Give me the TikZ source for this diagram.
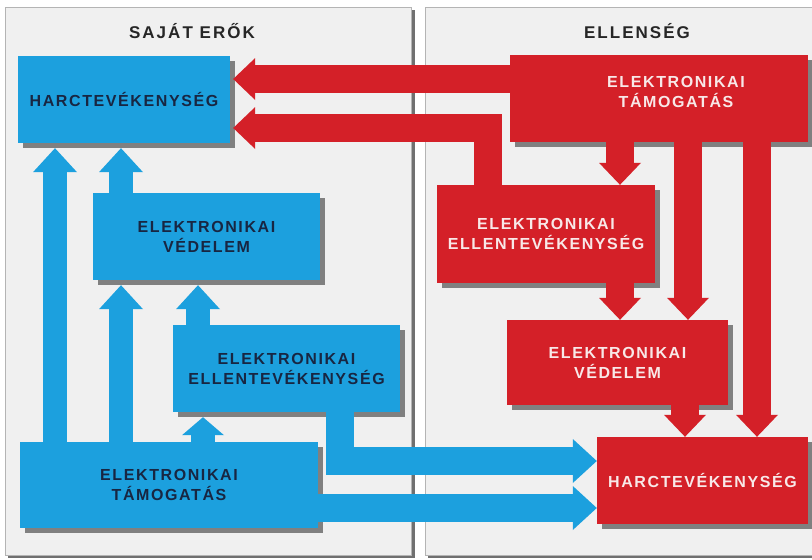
\documentclass[tikz,border=0pt]{standalone}
\usepackage{fontspec}
\setmainfont{Liberation Sans}
\newfontfamily\boxfont{Liberation Sans}[LetterSpace=10]
\newfontfamily\titlefont{Liberation Sans}[LetterSpace=12]
\usetikzlibrary{arrows.meta,shadows}

\definecolor{boxblue}{RGB}{28,160,222}
\definecolor{boxred}{RGB}{212,32,40}
\definecolor{bluetext}{RGB}{24,38,66}
\definecolor{redtext}{RGB}{248,232,232}
\definecolor{boxshadow}{RGB}{128,128,128}
\definecolor{panelbg}{RGB}{240,240,240}
\definecolor{panelline}{RGB}{180,180,180}
\definecolor{panelshadow}{RGB}{112,112,112}

\tikzset{
  panelrect/.style={fill=panelbg, draw=panelline, line width=1pt},
  panelshade/.style={fill=panelshadow},
  paneltitle/.style={font=\titlefont\bfseries\fontsize{17}{20}\selectfont, text=black!85},
  box/.style={rectangle, inner sep=0pt, align=center,
    font=\boxfont\bfseries\fontsize{16}{20}\selectfont,
    general shadow={fill=boxshadow, shadow xshift=5pt, shadow yshift=-5pt}},
  bluebox/.style={box, fill=boxblue, text=bluetext},
  redbox/.style={box, fill=boxred, text=redtext},
  blueflow/.style={draw=boxblue, line width=24pt, line cap=butt,
    -{Triangle[length=24pt, width=44pt, line width=0pt]}},
  blueflowwide/.style={draw=boxblue, line width=28pt, line cap=butt, line join=miter,
    -{Triangle[length=24pt, width=44pt, line width=0pt]}},
  redflow/.style={draw=boxred, line width=28pt, line cap=butt, line join=miter,
    -{Triangle[length=22pt, width=42pt, line width=0pt]}},
}

\begin{document}
\begin{tikzpicture}[x=1pt, y=-1pt]
\useasboundingbox (0,0) rectangle (812,560);
\fill[white] (0,0) rectangle (812,560);

% the two panels
\fill[panelshade] (8,10) rectangle (415,558);
\path[panelrect] (5,7) rectangle (411,555);
\fill[panelshade] (428,10) rectangle (818,558);
\path[panelrect] (425,7) rectangle (815,555);

\node[paneltitle] (ownttl) at (192,31) {SAJÁT ERŐK};
\node[paneltitle] (enemyttl) at (637,31) {ELLENSÉG};

% own forces
\node[bluebox, minimum width=212pt, minimum height=87pt] (bharc) at (124,99.5) {HARCTEVÉKENYSÉG};
\node[bluebox, minimum width=227pt, minimum height=87pt] (bved) at (206.5,236.5) {ELEKTRONIKAI\\VÉDELEM};
\node[bluebox, minimum width=227pt, minimum height=87pt] (bellen) at (286.5,368.5) {ELEKTRONIKAI\\ELLENTEVÉKENYSÉG};
\node[bluebox, minimum width=298pt, minimum height=86pt] (btam) at (169,485) {ELEKTRONIKAI\\TÁMOGATÁS};

% enemy
\node[redbox, minimum width=298pt, minimum height=87pt] (rtam) at (659,98.5) {};
\node[font=\boxfont\bfseries\fontsize{16}{20}\selectfont, text=redtext, align=center] (rtamtxt) at (676,92) {ELEKTRONIKAI\\TÁMOGATÁS};
\node[redbox, minimum width=218pt, minimum height=98pt] (rellen) at (546,234) {ELEKTRONIKAI\\ELLENTEVÉKENYSÉG};
\node[redbox, minimum width=221pt, minimum height=85pt] (rved) at (617.5,362.5) {ELEKTRONIKAI\\VÉDELEM};
\node[redbox, minimum width=211pt, minimum height=87pt] (rharc) at (702.5,480.5) {HARCTEVÉKENYSÉG};

% points where arrow tips meet the box shadows
\coordinate (bharcS) at ([yshift=-5pt]bharc.south);
\coordinate (bharcE) at ([xshift=3pt]bharc.east);
\coordinate (bvedS) at ([yshift=-5pt]bved.south);
\coordinate (bellenS) at ([yshift=-5pt]bellen.south);

% lanes of the arrows
\coordinate (la) at (55,0);
\coordinate (lb) at (121,0);
\coordinate (lc) at (198,0);
\coordinate (ld) at (203,0);
\coordinate (le) at (340,0);
\coordinate (ra) at (620,0);
\coordinate (rb) at (688,0);
\coordinate (rc) at (685,0);
\coordinate (rd) at (757,0);
\coordinate (re) at (488,0);
\coordinate (h1) at (0,79);
\coordinate (h2) at (0,128);
\coordinate (h3) at (0,461);
\coordinate (h4) at (0,508);

% own forces flows
\draw[blueflow] (btam.north -| la) -- (bharcS -| la);
\draw[blueflow] (bved.north -| lb) -- (bharcS -| lb);
\draw[blueflow] (btam.north -| lb) -- (bvedS -| lb);
\draw[blueflow] (bellen.north -| lc) -- (bvedS -| lc);
\draw[blueflow, -{Triangle[length=18pt, width=42pt, line width=0pt]}] (btam.north -| ld) -- (bellenS -| ld);
\draw[blueflowwide] (bellen.south -| le) |- (rharc.west |- h3);
\draw[blueflowwide] (btam.east |- h4) -- (rharc.west |- h4);

% enemy flows
\draw[redflow] (rtam.west |- h1) -- (bharcE |- h1);
\draw[redflow] (rellen.north -| re) |- (bharcE |- h2);
\draw[redflow] (rtam.south -| ra) -- (rellen.north -| ra);
\draw[redflow] (rellen.south -| ra) -- (rved.north -| ra);
\draw[redflow] (rtam.south -| rb) -- (rved.north -| rb);
\draw[redflow] (rved.south -| rc) -- (rharc.north -| rc);
\draw[redflow] (rtam.south -| rd) -- (rharc.north -| rd);
\end{tikzpicture}
\end{document}
